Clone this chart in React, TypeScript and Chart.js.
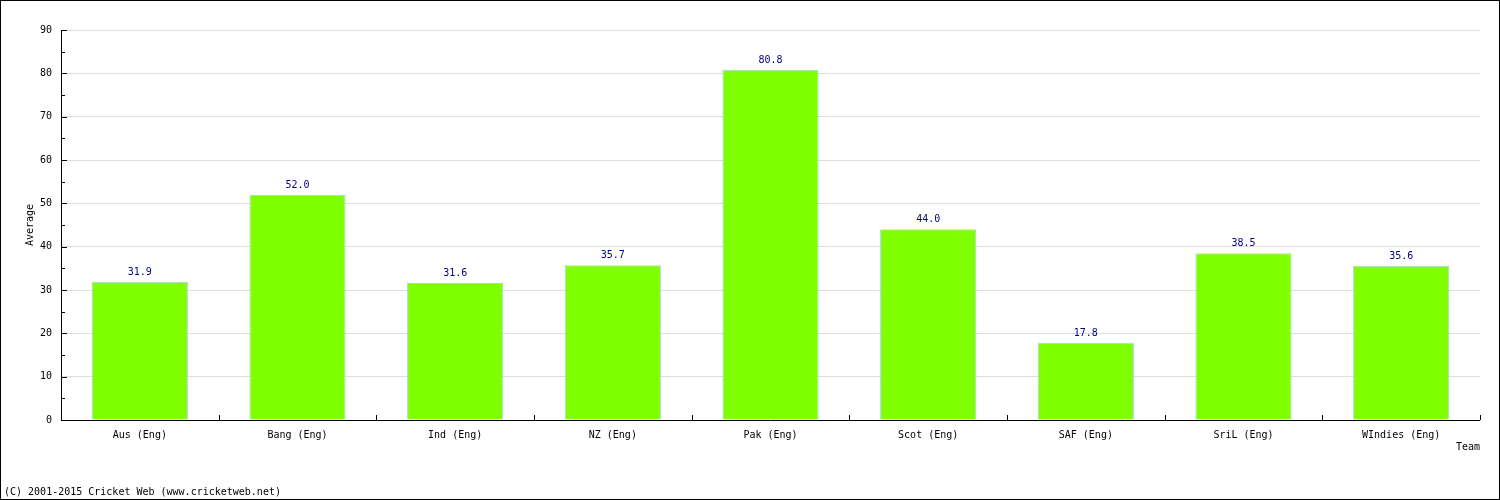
import React, { useEffect, useRef } from "react";
import { Chart, registerables } from "chart.js";

Chart.register(...registerables);

const categories = ["Aus (Eng)", "Bang (Eng)", "Ind (Eng)", "NZ (Eng)", "Pak (Eng)", "Scot (Eng)", "SAF (Eng)", "SriL (Eng)", "WIndies (Eng)"];
const averages = [31.9, 52.0, 31.6, 35.7, 80.8, 44.0, 17.8, 38.5, 35.6];
const yMax = 90;
const yStep = 10;
const yTitle = "Average";
const xTitle = "Team";
const copyright = "(C) 2001-2015 Cricket Web (www.cricketweb.net)";

const FONT = "'DejaVu Sans Mono', monospace";

const overlay = {
  id: "overlay",
  afterDraw(chart: any) {
    const ctx = chart.ctx;
    const area = chart.chartArea;
    const xs = chart.scales.x;
    const ys = chart.scales.y;
    ctx.save();
    // axis lines
    ctx.strokeStyle = "#000";
    ctx.lineWidth = 1;
    ctx.beginPath();
    ctx.moveTo(Math.round(area.left) + 0.5, area.top);
    ctx.lineTo(Math.round(area.left) + 0.5, Math.round(area.bottom) + 1);
    ctx.moveTo(area.left, Math.round(area.bottom) + 0.5);
    ctx.lineTo(area.right, Math.round(area.bottom) + 0.5);
    ctx.stroke();
    // y tick marks (major + minor), inward
    ctx.beginPath();
    for (let v = 0; v <= yMax; v += yStep / 2) {
      const y = Math.round(ys.getPixelForValue(v)) + 0.5;
      const len = v % yStep === 0 ? 5 : 3;
      ctx.moveTo(Math.round(area.left), y);
      ctx.lineTo(Math.round(area.left) + len + 1, y);
    }
    // x tick marks at category boundaries, inward
    const n = categories.length;
    for (let i = 1; i <= n; i++) {
      const xp = (xs.getPixelForValue(i - 1) + (i < n ? xs.getPixelForValue(i) : xs.getPixelForValue(i - 1) + (xs.getPixelForValue(1) - xs.getPixelForValue(0)))) / 2;
      const x = Math.round(xp) + 0.5;
      ctx.moveTo(x, Math.round(area.bottom));
      ctx.lineTo(x, Math.round(area.bottom) - 5);
    }
    ctx.stroke();
    // value labels
    ctx.font = "10px " + FONT;
    ctx.fillStyle = "#000080";
    ctx.textAlign = "center";
    ctx.textBaseline = "alphabetic";
    const meta = chart.getDatasetMeta(0);
    meta.data.forEach((bar: any, i: number) => {
      ctx.fillText(averages[i].toFixed(1), bar.x, bar.y - 7);
    });
    // titles
    ctx.fillStyle = "#000";
    ctx.textAlign = "right";
    ctx.fillText(xTitle, area.right, 450);
    ctx.save();
    ctx.translate(33, (area.top + area.bottom) / 2);
    ctx.rotate(-Math.PI / 2);
    ctx.textAlign = "center";
    ctx.fillText(yTitle, 0, 0);
    ctx.restore();
    ctx.textAlign = "left";
    ctx.fillText(copyright, 4, 495);
    // outer border
    ctx.strokeStyle = "#000";
    ctx.strokeRect(0.5, 0.5, chart.width - 1, chart.height - 1);
    ctx.restore();
  },
};

export default function App() {
  const ref = useRef<HTMLCanvasElement>(null);
  useEffect(() => {
    if (!ref.current) return;
    const chart = new Chart(ref.current, {
      type: "bar",
      data: {
        labels: categories,
        datasets: [
          {
            data: averages,
            backgroundColor: "#80ff00",
            borderColor: "#a8d0f0",
            borderWidth: 1,
            categoryPercentage: 1,
            barPercentage: 0.61,
          },
        ],
      },
      options: {
        animation: false,
        responsive: false,
        maintainAspectRatio: false,
        layout: { padding: { left: 0, top: 30, right: 20, bottom: 0 } },
        plugins: { legend: { display: false }, tooltip: { enabled: false } },
        scales: {
          x: {
            afterFit: (s: any) => { s.height = 80; },
            grid: { display: false, drawTicks: false },
            border: { display: false },
            ticks: { color: "#000", font: { family: FONT, size: 10 }, padding: 9, maxRotation: 0, autoSkip: false },
          },
          y: {
            min: 0,
            max: yMax,
            afterFit: (s: any) => { s.width = 61; },
            grid: { color: "#dddddd", drawTicks: false },
            border: { display: false },
            ticks: { stepSize: yStep, color: "#000", font: { family: FONT, size: 10 }, padding: 9 },
          },
        },
      },
      plugins: [overlay],
    });
    return () => chart.destroy();
  }, []);
  return (
    <div style={{ position: "fixed", left: 0, top: 0, width: 1500, height: 500, background: "#fff" }}>
      <canvas ref={ref} width={1500} height={500} style={{ display: "block", width: 1500, height: 500 }} />
    </div>
  );
}
